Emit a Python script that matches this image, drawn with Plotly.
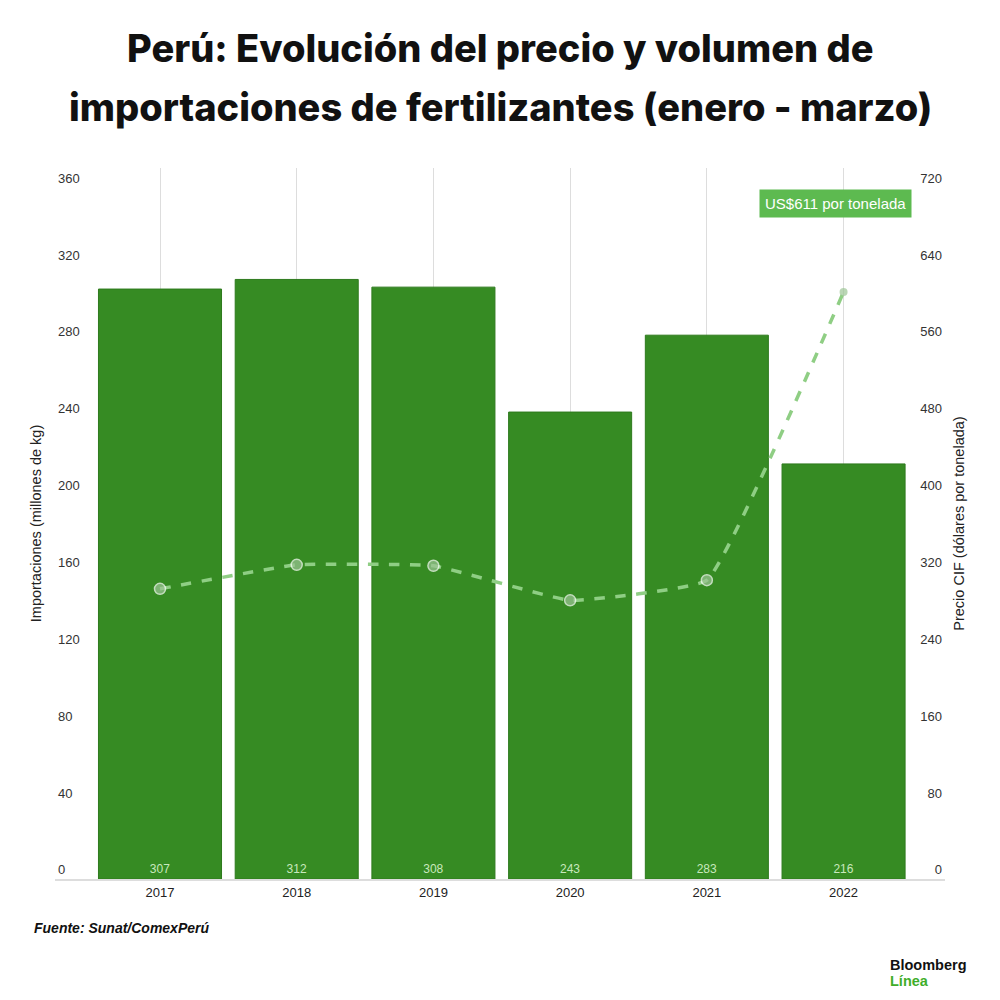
import plotly.graph_objects as go

years = ["2017", "2018", "2019", "2020", "2021", "2022"]
volumen = [307, 312, 308, 243, 283, 216]
precio = [302, 327, 326, 290, 311, 611]
left_ticks = [0, 40, 80, 120, 160, 200, 240, 280, 320, 360]
right_ticks = [0, 80, 160, 240, 320, 400, 480, 560, 640, 720]

fig = go.Figure()

fig.add_trace(go.Bar(
    x=list(range(len(years))),
    y=volumen,
    marker=dict(color="#368b23", line=dict(color="#2e7a1d", width=1)),
    texttemplate="%{y}",
    textposition="inside",
    insidetextanchor="start",
    textfont=dict(family="Liberation Sans", size=12, color="#c8e8bd"),
    width=0.9,
    hoverinfo="skip",
))

fig.add_trace(go.Scatter(
    x=list(range(len(years))),
    y=precio,
    yaxis="y2",
    mode="lines+markers",
    line=dict(color="#8fce84", width=3.5, dash="dash", shape="spline", smoothing=0.3),
    marker=dict(
        color="#9cc495",
        size=[11, 11, 11, 11, 11, 8],
        line=dict(color=["white"] * 5 + ["#8fce84"], width=[1.5] * 5 + [0]),
    ),
    hoverinfo="skip",
))

# tapa las líneas de cuadrícula por encima de 360
fig.add_shape(
    type="rect", xref="paper", x0=0, x1=1, yref="y", y0=360, y1=370,
    fillcolor="white", line=dict(width=0), layer="between",
)

# etiqueta del último precio
fig.add_annotation(
    x=5, y=703, xref="x", yref="y2",
    text="US$611 por tonelada", showarrow=False,
    xshift=-8,
    bgcolor="#5dba50", borderpad=5,
    font=dict(family="Liberation Sans Narrow, Liberation Sans", size=15, color="white"),
)

# título en dos líneas
title_font = dict(family="Inter", size=38, color="#111111", weight=800)
fig.add_annotation(
    x=0.5, y=1.1688, xref="paper", yref="paper", xanchor="center", yanchor="middle",
    text="Perú: Evolución del precio y volumen de", showarrow=False, font=title_font,
)
fig.add_annotation(
    x=0.5, y=1.0858, xref="paper", yref="paper", xanchor="center", yanchor="middle",
    text="importaciones de fertilizantes (enero - marzo)", showarrow=False, font=title_font,
)

fig.add_annotation(
    x=-0.0258, y=-0.0689, xref="paper", yref="paper", xanchor="left", yanchor="middle",
    text="<b><i>Fuente: Sunat/ComexPerú</i></b>", showarrow=False,
    font=dict(family="Liberation Sans", size=14, color="#111111"),
)
fig.add_annotation(
    x=0.936, y=-0.1210, xref="paper", yref="paper", xanchor="left", yanchor="middle",
    text="<b>Bloomberg</b>", showarrow=False,
    font=dict(family="Liberation Sans", size=14.5, color="#111111"),
)
fig.add_annotation(
    x=0.936, y=-0.1435, xref="paper", yref="paper", xanchor="left", yanchor="middle",
    text="<b>Línea</b>", showarrow=False,
    font=dict(family="Liberation Sans", size=14.5, color="#3fae2a"),
)

fig.update_layout(
    width=1000, height=1000,
    margin=dict(l=47, r=63, t=160, b=129),
    paper_bgcolor="white", plot_bgcolor="white",
    showlegend=False,
    bargap=0.1,
    font=dict(family="Liberation Sans", color="#333333", size=13),
    xaxis=dict(
        range=[-0.768, 5.742],
        tickmode="array", tickvals=list(range(len(years))), ticktext=years,
        showgrid=True, gridcolor="#dddddd", gridwidth=1,
        showline=True, linecolor="#dddddd", linewidth=2,
        ticks="", tickfont=dict(size=13, color="#222222"),
        zeroline=False,
    ),
    yaxis=dict(
        range=[0, 370], tickvals=left_ticks,
        showgrid=False, zeroline=False,
        ticklabelposition="inside top",
        tickfont=dict(size=13, color="#333333"),
        title=dict(text="Importaciones (millones de kg)", standoff=12,
                   font=dict(size=14.5, color="#222222")),
        automargin=False,
    ),
    yaxis2=dict(
        range=[0, 740], tickvals=right_ticks,
        overlaying="y", side="right",
        showgrid=False, zeroline=False,
        ticklabelposition="inside top",
        tickfont=dict(size=13, color="#333333"),
        title=dict(text="Precio CIF (dólares por tonelada)", standoff=12,
                   font=dict(size=14.5, color="#222222")),
        automargin=False,
    ),
)

fig.write_html("out.html")
